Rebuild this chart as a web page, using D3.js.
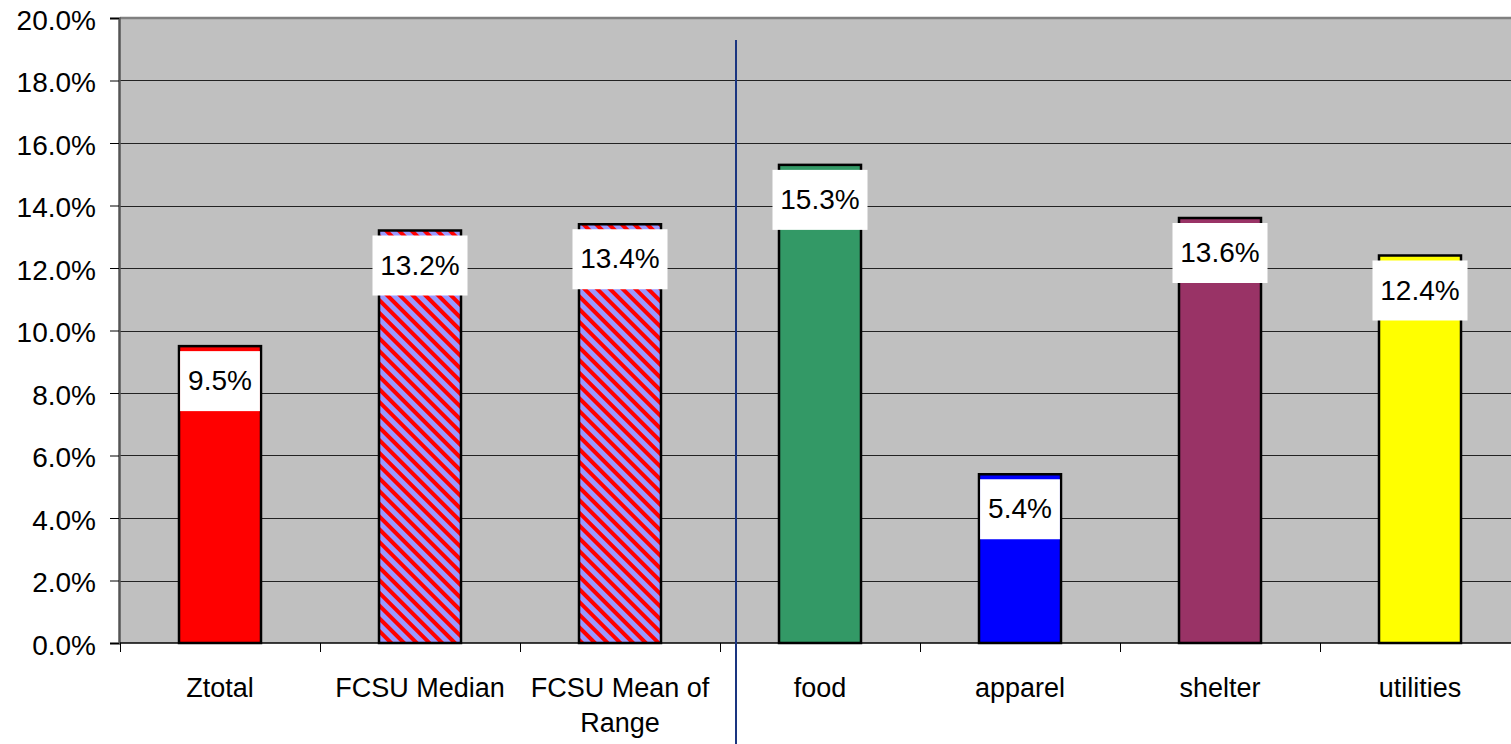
<!DOCTYPE html>
<html lang="en">
<head>
<meta charset="utf-8">
<title>bar chart</title>
<script src="https://cdn.jsdelivr.net/npm/d3@7"></script>
<style>
  body { margin: 0; background: #fff; }
  svg { display: block; font-family: Arial, "Liberation Sans", sans-serif; }
</style>
</head>
<body>
<script>
// data
var categories = ["Ztotal", "FCSU Median", "FCSU Mean of Range", "food", "apparel", "shelter", "utilities"];
var values = [9.5, 13.2, 13.4, 15.3, 5.4, 13.6, 12.4];
var valueLabels = ["9.5%", "13.2%", "13.4%", "15.3%", "5.4%", "13.6%", "12.4%"];
var yTicks = [0, 2, 4, 6, 8, 10, 12, 14, 16, 18, 20];
var fills = ["#ff0000", "url(#stripes)", "url(#stripes)", "#339966", "#0000ff", "#993366", "#ffff00"];

var w = 1511, h = 744;
// plot box (note: "top" is taken by window.top, so use plot* names)
var plotLeft = 120, plotRight = 1520, plotTop = 18, plotBottom = 643;

var svg = d3.select("body").append("svg")
    .attr("width", w)
    .attr("height", h);

// striped fill for the FCSU bars
var pat = svg.append("defs").append("pattern")
    .attr("id", "stripes")
    .attr("patternUnits", "userSpaceOnUse")
    .attr("width", 9)
    .attr("height", 9)
    .attr("patternTransform", "rotate(-45)");
pat.append("rect").attr("width", 9).attr("height", 9).attr("fill", "#9999ff");
pat.append("rect").attr("width", 4).attr("height", 9).attr("fill", "#ff0000");

var x = d3.scaleBand()
    .domain(categories)
    .range([plotLeft, plotRight])
    .paddingInner(0.59)
    .paddingOuter(0.295);

var y = d3.scaleLinear()
    .domain([0, 20])
    .range([plotBottom, plotTop]);

// plot area
svg.append("rect")
    .attr("x", plotLeft)
    .attr("y", plotTop)
    .attr("width", plotRight - plotLeft)
    .attr("height", plotBottom - plotTop)
    .attr("fill", "#c0c0c0");

// top border
svg.append("line")
    .attr("x1", plotLeft).attr("x2", plotRight)
    .attr("y1", plotTop).attr("y2", plotTop)
    .attr("stroke", "#808080")
    .attr("stroke-width", 2.5);

// gridlines
svg.selectAll(".grid")
    .data(yTicks.slice(1, -1))
    .enter()
    .append("line")
    .attr("class", "grid")
    .attr("x1", plotLeft).attr("x2", plotRight)
    .attr("y1", function(d) { return Math.round(y(d)) + 0.5; })
    .attr("y2", function(d) { return Math.round(y(d)) + 0.5; })
    .attr("stroke", "#222")
    .attr("stroke-width", 1);

// y axis
var yAxis = d3.axisLeft(y)
    .tickValues(yTicks)
    .tickSize(9)
    .tickPadding(14)
    .tickFormat(function(d) { return d.toFixed(1) + "%"; });

var gy = svg.append("g")
    .attr("transform", "translate(" + (plotLeft - 1) + ",0)")
    .call(yAxis);
gy.select(".domain").attr("stroke", "#555").attr("stroke-width", 2.5);
gy.selectAll(".tick line").attr("stroke", "#000");
gy.selectAll(".tick text")
    .attr("font-size", 28)
    .attr("font-family", "Arial, 'Liberation Sans', sans-serif")
    .attr("fill", "#000")
    .attr("dy", "0.4em");

// bottom axis with ticks between categories
var step = x.step();
var boundaries = d3.range(categories.length + 1).map(function(i) {
    return x(categories[0]) - (step - x.bandwidth()) / 2 + i * step;
});

svg.append("line")
    .attr("x1", plotLeft).attr("x2", plotRight)
    .attr("y1", plotBottom).attr("y2", plotBottom)
    .attr("stroke", "#000")
    .attr("stroke-width", 1.5);

svg.selectAll(".xtick")
    .data(boundaries)
    .enter()
    .append("line")
    .attr("class", "xtick")
    .attr("x1", function(d) { return Math.round(d) + 0.5; })
    .attr("x2", function(d) { return Math.round(d) + 0.5; })
    .attr("y1", plotBottom)
    .attr("y2", plotBottom + 9)
    .attr("stroke", "#000");

// category labels (wrapped where Excel wrapped them)
var catLines = {
    "FCSU Mean of Range": ["FCSU Mean of", "Range"]
};
svg.selectAll(".cat")
    .data(categories)
    .enter()
    .append("text")
    .attr("class", "cat")
    .attr("text-anchor", "middle")
    .attr("font-size", 27)
    .attr("fill", "#000")
    .each(function(d) {
        var lines = catLines[d] || [d];
        var t = d3.select(this);
        lines.forEach(function(l, i) {
            t.append("tspan")
                .attr("x", x(d) + x.bandwidth() / 2)
                .attr("y", 697 + i * 35)
                .text(l);
        });
    });

// bars
svg.selectAll(".bar")
    .data(values)
    .enter()
    .append("rect")
    .attr("class", "bar")
    .attr("x", function(d, i) { return x(categories[i]); })
    .attr("y", function(d) { return y(d); })
    .attr("width", x.bandwidth())
    .attr("height", function(d) { return plotBottom - y(d); })
    .attr("fill", function(d, i) { return fills[i]; })
    .attr("stroke", "#000")
    .attr("stroke-width", 2.5);

// value labels in white boxes
var lab = svg.selectAll(".lab")
    .data(values)
    .enter()
    .append("g")
    .attr("class", "lab");

lab.append("rect")
    .attr("fill", "#fff");

lab.append("text")
    .attr("text-anchor", "middle")
    .attr("font-size", 28)
    .attr("fill", "#000")
    .attr("x", function(d, i) { return x(categories[i]) + x.bandwidth() / 2; })
    .attr("y", function(d) { return y(d) + 5 + 39; })
    .text(function(d, i) { return valueLabels[i]; });

lab.each(function(d, i) {
    var g = d3.select(this);
    var tw = g.select("text").node().getComputedTextLength();
    var bw = Math.min(tw + 16, 95);
    g.select("rect")
        .attr("x", x(categories[i]) + x.bandwidth() / 2 - bw / 2)
        .attr("y", y(d) + 5)
        .attr("width", bw)
        .attr("height", 60);
});

// divider line
var divX = boundaries[3] + 16;
svg.append("line")
    .attr("x1", divX).attr("x2", divX)
    .attr("y1", 40).attr("y2", h)
    .attr("stroke", "#1a3580")
    .attr("stroke-width", 2);
</script>
</body>
</html>
